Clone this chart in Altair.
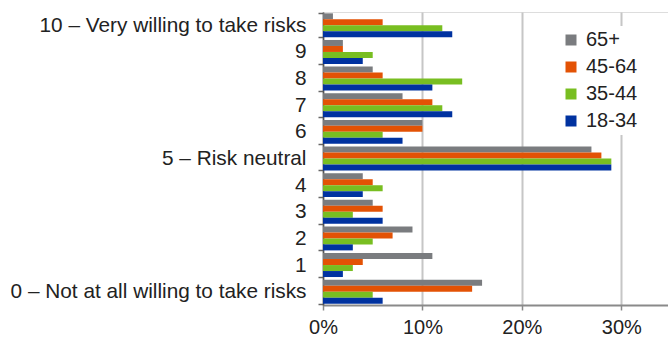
import altair as alt
import pandas as pd

categories = ["10 – Very willing to take risks", "9", "8", "7", "6", "5 – Risk neutral",
              "4", "3", "2", "1", "0 – Not at all willing to take risks"]
series = ["65+", "45-64", "35-44", "18-34"]
colors = ["#7a7c7f", "#e35205", "#78be21", "#0032a0"]

v_65 = [1, 2, 5, 8, 10, 27, 4, 5, 9, 11, 16]
v_45 = [6, 2, 6, 11, 10, 28, 5, 6, 7, 4, 15]
v_35 = [12, 5, 14, 12, 6, 29, 6, 3, 5, 3, 5]
v_18 = [13, 4, 11, 13, 8, 29, 4, 6, 3, 2, 6]

rows = []
for s, vals in zip(series, [v_65, v_45, v_35, v_18]):
    for c, v in zip(categories, vals):
        rows.append({"category": c, "group": s, "value": v})
df = pd.DataFrame(rows)

FONT = "Liberation Sans"

bars = alt.Chart(df).mark_bar(stroke=None).encode(
    x=alt.X("value:Q",
            scale=alt.Scale(domain=[0, 34.7], nice=False, zero=True),
            axis=alt.Axis(values=[0, 10, 20, 30], labelExpr="datum.value + '%'",
                          title=None, grid=True, gridColor="#c6c6c6", gridWidth=2,
                          domainColor="#8a8a8a", domainWidth=2,
                          tickColor="#8a8a8a", tickSize=5, tickWidth=1.5,
                          labelFlush=False,
                          labelFontSize=20, labelFont=FONT, labelColor="#222222",
                          labelPadding=7)),
    y=alt.Y("category:N", sort=categories,
            scale=alt.Scale(paddingInner=0.1, paddingOuter=0.05),
            axis=alt.Axis(title=None, tickBand="extent", tickSize=5,
                          tickColor="#666666", tickWidth=1.5,
                          domainColor="#555555", domainWidth=1.5,
                          labelFontSize=20.8, labelFont=FONT, labelColor="#222222",
                          labelPadding=12, labelLimit=400)),
    yOffset=alt.YOffset("group:N", sort=series),
    color=alt.Color("group:N", sort=series,
                    scale=alt.Scale(domain=series, range=colors),
                    legend=alt.Legend(title=None, orient="none", legendX=234, legendY=14,
                                      fillColor="white", padding=4,
                                      symbolType="square", symbolSize=121,
                                      symbolStrokeWidth=0, rowPadding=7,
                                      labelFontSize=20, labelFont=FONT,
                                      labelColor="#222222", labelOffset=5)),
)

chart = bars.properties(
    width=345, height=293,
    autosize=alt.AutoSizeParams(type="none"),
    padding={"left": 323, "top": 12, "right": 0, "bottom": 34},
).configure_view(stroke="#a6a6a6", strokeWidth=2).configure(background="white")

chart.save("out.html", embed_options={"renderer": "svg", "actions": False})
